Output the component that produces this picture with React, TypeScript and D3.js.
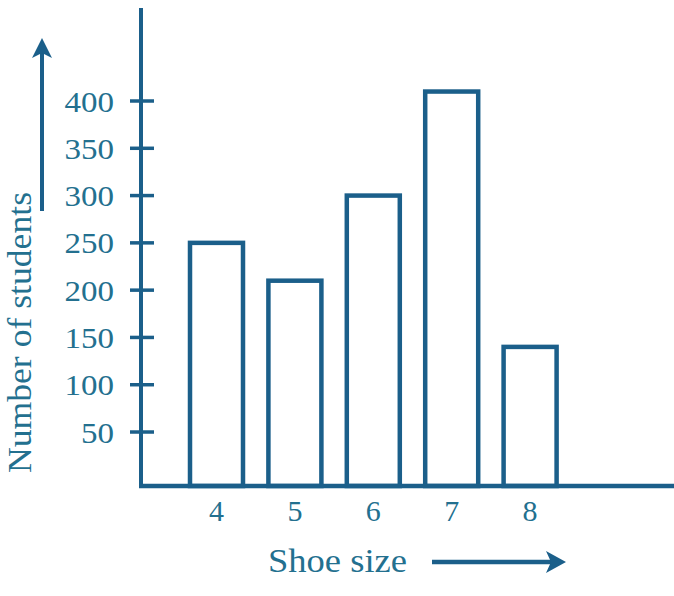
import React from "react";
import * as d3 from "d3";

const shoeSizes: string[] = ["4", "5", "6", "7", "8"];
const students: number[] = [250, 210, 300, 410, 140];
const yTicks: number[] = [50, 100, 150, 200, 250, 300, 350, 400];
const xTitle = "Shoe size";
const yTitle = "Number of students";

const W = 674;
const H = 596;
const LINE = "#1b5f8a";
const TEXT = "#23708f";

export default function App() {
  const axisX = 141;
  const baseY = 486;
  const x = d3
    .scaleBand<string>()
    .domain(shoeSizes)
    .range([190, 556.6])
    .paddingInner(0.324)
    .paddingOuter(0);
  const y = d3.scaleLinear().domain([0, 400]).range([479.3, 101]);
  const font = "Times New Roman, Liberation Serif, Tinos, serif";

  return (
    <svg
      width={W}
      height={H}
      style={{ position: "absolute", left: 0, top: 0, background: "#fff" }}
    >
      {/* bars */}
      {shoeSizes.map((s, i) => (
        <rect
          key={s}
          x={x(s)!}
          y={y(students[i])}
          width={x.bandwidth()}
          height={baseY - y(students[i])}
          fill="#fff"
          stroke={LINE}
          strokeWidth={4.5}
        />
      ))}
      {/* y axis */}
      <line x1={axisX} x2={axisX} y1={8} y2={baseY + 2} stroke={LINE} strokeWidth={4} />
      {/* x axis */}
      <line x1={axisX - 2} x2={W} y1={baseY} y2={baseY} stroke={LINE} strokeWidth={4.5} />
      {/* y ticks */}
      {yTicks.map((t) => (
        <g key={t}>
          <line x1={130} x2={154} y1={y(t)} y2={y(t)} stroke={LINE} strokeWidth={3.5} />
          <text
            x={114}
            y={y(t)}
            dy="0.35em"
            textAnchor="end"
            fontFamily={font}
            fontSize={30}
            fill={TEXT}
            textLength={String(t).length * 16.5}
            lengthAdjust="spacingAndGlyphs"
          >
            {t}
          </text>
        </g>
      ))}
      {/* x tick labels */}
      {shoeSizes.map((s) => (
        <text
          key={s}
          x={x(s)! + x.bandwidth() / 2}
          y={510}
          dy="0.35em"
          textAnchor="middle"
          fontFamily={font}
          fontSize={30}
          fill={TEXT}
        >
          {s}
        </text>
      ))}
      {/* x title */}
      <text
        x={268}
        y={572}
        fontFamily={font}
        fontSize={34}
        fill={TEXT}
        textLength={139}
        lengthAdjust="spacingAndGlyphs"
      >
        {xTitle}
      </text>
      {/* y title */}
      <text
        transform="translate(31,473) rotate(-90)"
        x={0}
        y={0}
        fontFamily={font}
        fontSize={34}
        fill={TEXT}
        textLength={281}
        lengthAdjust="spacingAndGlyphs"
      >
        {yTitle}
      </text>
      {/* up arrow */}
      <line x1={42} x2={42} y1={211} y2={52} stroke={LINE} strokeWidth={4} />
      <path d="M42,38 L52,58 L42,53 L32,58 Z" fill={LINE} />
      {/* right arrow */}
      <line x1={432} x2={552} y1={562} y2={562} stroke={LINE} strokeWidth={4.5} />
      <path d="M566,562 L546,551 L551,562 L546,573 Z" fill={LINE} />
    </svg>
  );
}
